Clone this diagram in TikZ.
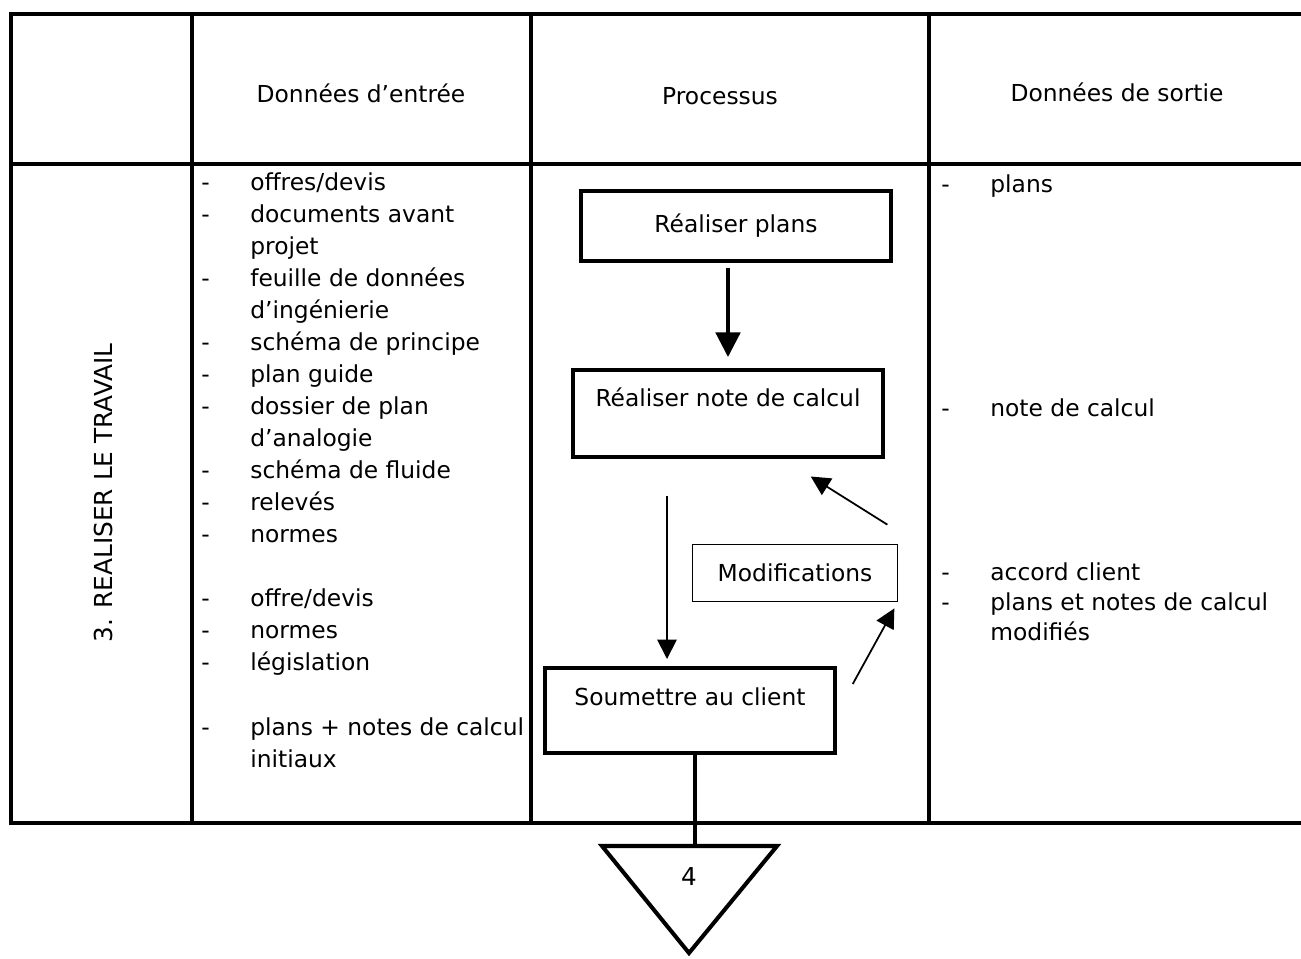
\documentclass[tikz,border=0pt]{standalone}
\usepackage{fontspec}
\setmainfont{DejaVu Sans}
\usetikzlibrary{arrows.meta}

\tikzset{
  rule/.style={line width=2.8pt},
  stepbox/.style={draw,line width=2pt,inner sep=0pt},
  modbox/.style={draw,line width=1pt,inner sep=0pt},
  flow/.style={-{Triangle[width=11pt,length=11pt]},line width=1pt},
  bigflow/.style={-{Triangle[width=14pt,length=14pt]},line width=1.8pt}
}

\begin{document}
\begin{tikzpicture}[x=0.02cm,y=-0.02cm,font=\fontsize{13.3}{18.25}\selectfont]
  \useasboundingbox (0,0) rectangle (1301,958);
  % table frame
  \draw[rule] (1301,14) -| (11,823) -- (1301,823);
  \draw[rule] (11,164) -- (1301,164);
  \foreach \xcol in {192,531,929}
    \draw[rule] (\xcol,14) -- (\xcol,823);

  % header row
  \node (hin) at (361,93) {Données d’entrée};
  \node (hproc) at (720,96) {Processus};
  \node (hout) at (1117,92) {Données de sortie};

  \node[rotate=90,font=\fontsize{14.1}{18}\selectfont] (phase) at (103,493) {3. REALISER LE TRAVAIL};

  % input data
  \node[anchor=base west,inner sep=0pt] (inputs) at (201,190) {%
    \begin{tabular}[t]{@{}p{0.98cm}@{}l@{}}
      - & offres/devis\\
      - & documents avant\\
        & projet\\
      - & feuille de données\\
        & d’ingénierie\\
      - & schéma de principe\\
      - & plan guide\\
      - & dossier de plan\\
        & d’analogie\\
      - & schéma de fluide\\
      - & relevés\\
      - & normes\\
        & \\
      - & offre/devis\\
      - & normes\\
      - & législation\\
        & \\
      - & plans + notes de calcul\\
        & initiaux
    \end{tabular}};

  % output data
  \node[anchor=base west,inner sep=0pt] (outputs) at (941,192) {%
    \begin{tabular}[t]{@{}p{0.98cm}@{}l@{}}
      - & plans\\
        & \\
        & \\
        & \\
        & \\
        & \\
        & \\
      - & note de calcul\\
        & \\
        & \\
        & \\
        & \\[2pt]
      - & accord client\\[-1.2pt]
      - & plans et notes de calcul\\[-1.2pt]
        & modifiés
    \end{tabular}};

  % process
  \node[stepbox,minimum width=6.2cm,minimum height=1.4cm] (plans) at (736,226) {Réaliser plans};
  \node[stepbox,minimum width=6.2cm,text height=0.74cm,text depth=1cm,anchor=north]
    (calcul) at (728,368) {Réaliser note de calcul};
  \node[modbox,minimum width=4.1cm,minimum height=1.14cm] (modif) at (795,573) {Modifications};
  \node[stepbox,minimum width=5.8cm,text height=0.76cm,text depth=0.94cm,anchor=north]
    (client) at (690,666) {Soumettre au client};

  \draw[bigflow,shorten <=1mm,shorten >=2.2mm] (plans.south -| calcul.north) -- (calcul.north);
  \coordinate (drop) at ([xshift=-4.6mm]client.north);
  \draw[flow,shorten <=7.4mm,shorten >=1.4mm] (drop |- calcul.south) -- (drop);
  \draw[flow] ([shift={(16,18)}]client.north east) -- ([shift={(-4,6)}]modif.south east);
  \draw[flow] ([shift={(-11,-19)}]modif.north east) -- ([shift={(-74,18)}]calcul.south east);

  % off-page connector
  \coordinate (tl) at (602,846);
  \coordinate (tr) at (777,846);
  \coordinate (tip) at (689,953);
  \draw[line width=2.3pt] (tl) -- (tr) -- (tip) -- cycle;
  \node[font=\fontsize{14}{16}\selectfont] (next) at (689,877) {4};
  \coordinate (exit) at ([xshift=1mm]client.south);
  \draw[line width=2.3pt] (exit) -- (exit |- tl);
\end{tikzpicture}
\end{document}
